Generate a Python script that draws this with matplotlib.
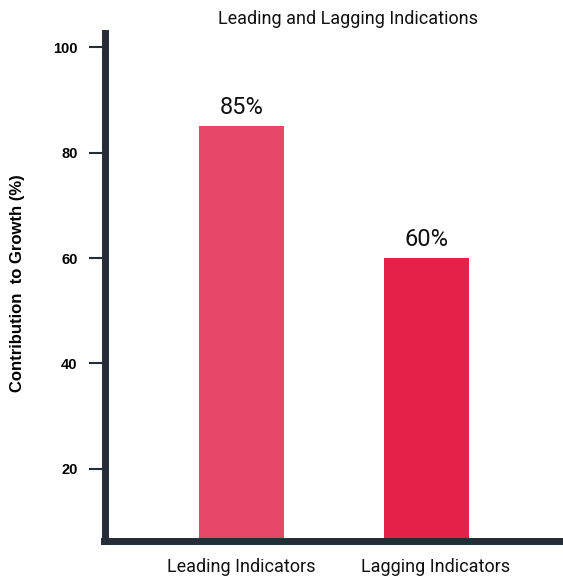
import matplotlib
matplotlib.use("Agg")
import matplotlib.pyplot as plt
from matplotlib.transforms import ScaledTranslation

categories = ["Leading Indicators", "Lagging Indicators"]
values = [85, 60]
bar_labels = ["85%", "60%"]
bar_colors = ["#E54866", "#E32149"]
yticks = [20, 40, 60, 80, 100]

spine_color = "#252E38"

fig = plt.figure(figsize=(5.63, 5.78), dpi=100)
ax = fig.add_axes([104.5 / 563, 37 / 578, 458.5 / 563, 508 / 578])

x = range(len(categories))
bars = ax.bar(x, values, width=0.46, color=bar_colors, zorder=1)

for b, lab in zip(bars, bar_labels):
    ax.annotate(lab, (b.get_x() + b.get_width() / 2, b.get_height()),
                xytext=(0, 5), textcoords="offset points",
                ha="center", va="bottom", fontsize=17, family="Roboto", color="#111111")

ax.set_xlim(-0.74, 1.74)
ax.set_ylim(6.3, 102.7)
ax.set_yticks(yticks)
ax.set_yticklabels([str(t) for t in yticks], fontweight="bold", fontsize=10.5,
                   family="Liberation Sans")
ax.set_xticks(list(x))
ax.set_xticklabels(categories, fontsize=13, family="Roboto", color="#111111")

ax.tick_params(axis="y", direction="out", length=11.5, width=1.5, color=spine_color, pad=8)
ax.tick_params(axis="x", length=0, pad=12)

for s in ["top", "right"]:
    ax.spines[s].set_visible(False)
for s in ["left", "bottom"]:
    ax.spines[s].set_linewidth(5.0)
    ax.spines[s].set_color(spine_color)
    ax.spines[s].set_zorder(3)

fig.text(18 / 563, 1 - 283 / 578, "Contribution  to Growth (%)", rotation=90,
         ha="center", va="center", fontsize=12, fontweight="bold", family="Liberation Sans")
fig.text(348 / 563, 1 - 19 / 578, "Leading and Lagging Indications",
         ha="center", va="center", fontsize=13, family="Roboto", color="#111111")

# second category label sits a bit right of its bar in the original
fig.canvas.draw()
lbl = ax.xaxis.get_major_ticks()[1].label1
lbl.set_transform(lbl.get_transform() + ScaledTranslation(0.09, 0, fig.dpi_scale_trans))

fig.savefig("out.png", dpi=100)
